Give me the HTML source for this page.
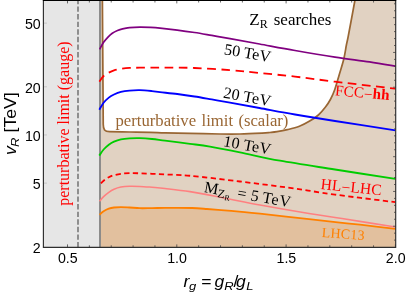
<!DOCTYPE html>
<html><head><meta charset="utf-8"><title>plot</title>
<style>
html,body{margin:0;padding:0;background:#ffffff;}
body{width:407px;height:295px;overflow:hidden;font-family:"Liberation Sans",sans-serif;}
svg{display:block;will-change:transform;}
</style></head><body>
<svg width="407" height="295" viewBox="0 0 407 295">
<rect x="0" y="0" width="407" height="295" fill="#ffffff"/>
<rect x="43.4" y="0.5" width="56.6" height="246.8" fill="#e6e6e6"/>
<rect x="100" y="0.5" width="295.7" height="246.8" fill="#e1d2c2"/>
<path d="M102.4,0.5 L103.25,124.3 C103.3,129.5 104.6,131.65 109.5,131.7 C112.92,131.75 123.25,131.90 130.00,132.00 C136.75,132.10 144.17,132.17 150.00,132.30 C155.83,132.43 158.33,132.62 165.00,132.80 C171.67,132.98 180.83,133.20 190.00,133.40 C199.17,133.60 211.67,133.90 220.00,134.00 C228.33,134.10 233.00,134.15 240.00,134.00 C247.00,133.85 257.00,133.35 262.00,133.10 C267.00,132.85 267.50,132.73 270.00,132.50 C272.50,132.27 274.12,132.17 277.00,131.70 C279.88,131.23 283.57,130.60 287.30,129.70 C291.03,128.80 295.67,127.73 299.40,126.30 C303.13,124.87 306.53,122.98 309.70,121.10 C312.87,119.22 315.80,117.30 318.40,115.00 C321.00,112.70 323.30,109.88 325.30,107.30 C327.30,104.72 328.82,102.47 330.40,99.50 C331.98,96.53 333.32,93.67 334.80,89.50 C336.28,85.33 337.80,79.58 339.30,74.50 C340.80,69.42 342.62,63.92 343.80,59.00 C344.98,54.08 345.65,48.83 346.40,45.00 C347.15,41.17 346.88,43.42 348.30,36.00 C349.72,28.58 353.80,6.42 354.90,0.50 Z" fill="#ffffff"/>
<path d="M99.50,214.70 C100.18,214.13 102.05,212.30 103.60,211.30 C105.15,210.30 107.07,209.33 108.80,208.70 C110.53,208.07 111.98,207.77 114.00,207.50 C116.02,207.23 118.32,207.10 120.90,207.10 C123.48,207.10 126.33,207.32 129.50,207.50 C132.67,207.68 136.15,208.10 139.90,208.20 C143.65,208.30 147.82,208.14 152.00,208.10 C156.18,208.06 161.17,207.99 165.00,207.95 C168.83,207.92 170.50,207.85 175.00,207.86 C179.50,207.87 186.67,207.82 192.00,208.01 C197.33,208.19 201.58,208.57 207.00,208.97 C212.42,209.37 218.70,209.93 224.50,210.40 C230.30,210.87 235.88,211.27 241.80,211.80 C247.72,212.33 248.80,212.37 260.00,213.60 C271.20,214.83 295.67,217.70 309.00,219.20 C322.33,220.70 331.50,221.68 340.00,222.60 C348.50,223.52 350.77,223.67 360.00,224.70 C369.23,225.73 389.50,228.12 395.40,228.80 L395.7,247.3 L100,247.3 Z" fill="#e2c09e"/>
<line x1="100" y1="0.5" x2="100" y2="247.3" stroke="#888888" stroke-width="1.9"/>
<line x1="78" y1="0.5" x2="78" y2="247.3" stroke="#6a6a6a" stroke-width="1.4" stroke-dasharray="5.4 2.2" stroke-dashoffset="1.65"/>
<path d="M102.4,0.5 L103.25,124.3 C103.3,129.5 104.6,131.65 109.5,131.7 C112.92,131.75 123.25,131.90 130.00,132.00 C136.75,132.10 144.17,132.17 150.00,132.30 C155.83,132.43 158.33,132.62 165.00,132.80 C171.67,132.98 180.83,133.20 190.00,133.40 C199.17,133.60 211.67,133.90 220.00,134.00 C228.33,134.10 233.00,134.15 240.00,134.00 C247.00,133.85 257.00,133.35 262.00,133.10 C267.00,132.85 267.50,132.73 270.00,132.50 C272.50,132.27 274.12,132.17 277.00,131.70 C279.88,131.23 283.57,130.60 287.30,129.70 C291.03,128.80 295.67,127.73 299.40,126.30 C303.13,124.87 306.53,122.98 309.70,121.10 C312.87,119.22 315.80,117.30 318.40,115.00 C321.00,112.70 323.30,109.88 325.30,107.30 C327.30,104.72 328.82,102.47 330.40,99.50 C331.98,96.53 333.32,93.67 334.80,89.50 C336.28,85.33 337.80,79.58 339.30,74.50 C340.80,69.42 342.62,63.92 343.80,59.00 C344.98,54.08 345.65,48.83 346.40,45.00 C347.15,41.17 346.88,43.42 348.30,36.00 C349.72,28.58 353.80,6.42 354.90,0.50" fill="none" stroke="#996633" stroke-width="1.7" stroke-linejoin="round"/>
<path d="M99.50,214.70 C100.18,214.13 102.05,212.30 103.60,211.30 C105.15,210.30 107.07,209.33 108.80,208.70 C110.53,208.07 111.98,207.77 114.00,207.50 C116.02,207.23 118.32,207.10 120.90,207.10 C123.48,207.10 126.33,207.32 129.50,207.50 C132.67,207.68 136.15,208.10 139.90,208.20 C143.65,208.30 147.82,208.14 152.00,208.10 C156.18,208.06 161.17,207.99 165.00,207.95 C168.83,207.92 170.50,207.85 175.00,207.86 C179.50,207.87 186.67,207.82 192.00,208.01 C197.33,208.19 201.58,208.57 207.00,208.97 C212.42,209.37 218.70,209.93 224.50,210.40 C230.30,210.87 235.88,211.27 241.80,211.80 C247.72,212.33 248.80,212.37 260.00,213.60 C271.20,214.83 295.67,217.70 309.00,219.20 C322.33,220.70 331.50,221.68 340.00,222.60 C348.50,223.52 350.77,223.67 360.00,224.70 C369.23,225.73 389.50,228.12 395.40,228.80" fill="none" stroke="#ff8000" stroke-width="1.85"/>
<path d="M99.50,201.30 C100.18,200.52 102.05,198.10 103.60,196.60 C105.15,195.10 107.07,193.52 108.80,192.30 C110.53,191.08 111.98,190.17 114.00,189.30 C116.02,188.43 118.32,187.62 120.90,187.10 C123.48,186.58 126.33,186.32 129.50,186.20 C132.67,186.08 136.15,186.22 139.90,186.40 C143.65,186.58 147.82,186.96 152.00,187.30 C156.18,187.64 158.67,187.73 165.00,188.45 C171.33,189.18 180.00,190.00 190.00,191.63 C200.00,193.25 213.33,195.97 225.00,198.20 C236.67,200.43 246.00,202.47 260.00,205.00 C274.00,207.53 295.33,211.15 309.00,213.40 C322.67,215.65 327.60,216.22 342.00,218.50 C356.40,220.78 386.50,225.67 395.40,227.10" fill="none" stroke="#ff8080" stroke-width="1.55"/>
<path d="M99.50,184.80 C100.18,184.12 102.05,181.97 103.60,180.70 C105.15,179.43 107.07,178.12 108.80,177.20 C110.53,176.28 111.98,175.77 114.00,175.20 C116.02,174.63 118.32,174.15 120.90,173.80 C123.48,173.45 126.33,173.18 129.50,173.10 C132.67,173.02 136.15,173.18 139.90,173.30 C143.65,173.42 147.82,173.61 152.00,173.80 C156.18,173.99 158.67,174.13 165.00,174.45 C171.33,174.78 177.50,174.55 190.00,175.73 C202.50,176.90 223.33,179.47 240.00,181.50 C256.67,183.53 274.17,185.72 290.00,187.90 C305.83,190.08 317.43,192.22 335.00,194.60 C352.57,196.98 385.33,200.93 395.40,202.20" fill="none" stroke="#ff0000" stroke-width="1.8" stroke-dasharray="5.2 3.47" stroke-dashoffset="6.55"/>
<path d="M99.30,155.60 C100.02,154.58 102.02,151.32 103.60,149.50 C105.18,147.68 107.07,146.02 108.80,144.70 C110.53,143.38 111.98,142.50 114.00,141.60 C116.02,140.70 118.32,139.85 120.90,139.30 C123.48,138.75 126.33,138.50 129.50,138.30 C132.67,138.10 136.15,137.98 139.90,138.10 C143.65,138.22 147.82,138.57 152.00,139.00 C156.18,139.43 158.67,139.85 165.00,140.65 C171.33,141.46 182.50,142.83 190.00,143.83 C197.50,144.83 201.67,145.22 210.00,146.65 C218.33,148.07 228.33,150.06 240.00,152.40 C251.67,154.74 264.17,157.85 280.00,160.70 C295.83,163.55 315.77,166.47 335.00,169.50 C354.23,172.53 385.33,177.33 395.40,178.90" fill="none" stroke="#00cc00" stroke-width="1.85"/>
<path d="M99.30,109.70 C100.02,108.55 102.02,104.82 103.60,102.80 C105.18,100.78 107.07,98.98 108.80,97.60 C110.53,96.22 111.98,95.45 114.00,94.50 C116.02,93.55 118.32,92.55 120.90,91.90 C123.48,91.25 126.33,90.88 129.50,90.60 C132.67,90.32 136.15,90.12 139.90,90.20 C143.65,90.28 148.65,90.78 152.00,91.10 C155.35,91.42 155.78,91.61 160.00,92.10 C164.22,92.59 171.55,93.31 177.30,94.04 C183.05,94.77 188.75,95.59 194.50,96.49 C200.25,97.38 205.88,98.41 211.80,99.43 C217.72,100.45 222.05,101.17 230.00,102.60 C237.95,104.03 248.67,106.02 259.50,108.00 C270.33,109.98 282.42,112.33 295.00,114.50 C307.58,116.67 318.27,118.35 335.00,121.00 C351.73,123.65 385.33,128.83 395.40,130.40" fill="none" stroke="#0000ff" stroke-width="1.85"/>
<path d="M99.30,81.60 C100.02,80.67 102.02,77.50 103.60,76.00 C105.18,74.50 107.07,73.55 108.80,72.60 C110.53,71.65 111.98,70.93 114.00,70.30 C116.02,69.67 118.32,69.20 120.90,68.80 C123.48,68.40 126.33,68.08 129.50,67.90 C132.67,67.72 136.15,67.75 139.90,67.70 C143.65,67.65 147.78,67.62 152.00,67.60 C156.22,67.58 158.12,67.49 165.20,67.55 C172.28,67.62 183.70,67.56 194.50,67.99 C205.30,68.41 219.08,69.26 230.00,70.10 C240.92,70.94 249.17,71.92 260.00,73.00 C270.83,74.08 282.50,75.15 295.00,76.60 C307.50,78.05 318.27,79.68 335.00,81.70 C351.73,83.72 385.33,87.53 395.40,88.70" fill="none" stroke="#ff0000" stroke-width="1.8" stroke-dasharray="8.7 5.45" stroke-dashoffset="0.9"/>
<path d="M99.60,49.40 C100.27,48.22 102.20,44.35 103.60,42.30 C105.00,40.25 106.55,38.60 108.00,37.10 C109.45,35.60 110.72,34.40 112.30,33.30 C113.88,32.20 115.78,31.25 117.50,30.50 C119.22,29.75 120.60,29.28 122.60,28.80 C124.60,28.32 126.62,27.88 129.50,27.60 C132.38,27.32 136.43,27.13 139.90,27.10 C143.37,27.07 146.95,27.23 150.30,27.40 C153.65,27.57 155.50,27.66 160.00,28.10 C164.50,28.54 171.55,29.31 177.30,30.04 C183.05,30.77 188.75,31.59 194.50,32.49 C200.25,33.38 205.88,34.41 211.80,35.43 C217.72,36.45 222.05,37.17 230.00,38.60 C237.95,40.03 248.67,42.02 259.50,44.00 C270.33,45.98 282.42,48.32 295.00,50.50 C307.58,52.68 322.58,55.20 335.00,57.10 C347.42,59.00 359.43,60.38 369.50,61.90 C379.57,63.42 391.08,65.48 395.40,66.20" fill="none" stroke="#800080" stroke-width="1.7"/>
<path d="M67.50,247.3 v-2.9 M67.50,0.5 v2.9 M89.36,247.3 v-2.0 M89.36,0.5 v2.0 M111.22,247.3 v-2.0 M111.22,0.5 v2.0 M133.08,247.3 v-2.0 M133.08,0.5 v2.0 M154.94,247.3 v-2.0 M154.94,0.5 v2.0 M176.80,247.3 v-2.9 M176.80,0.5 v2.9 M198.66,247.3 v-2.0 M198.66,0.5 v2.0 M220.52,247.3 v-2.0 M220.52,0.5 v2.0 M242.38,247.3 v-2.0 M242.38,0.5 v2.0 M264.24,247.3 v-2.0 M264.24,0.5 v2.0 M286.10,247.3 v-2.9 M286.10,0.5 v2.9 M307.96,247.3 v-2.0 M307.96,0.5 v2.0 M329.82,247.3 v-2.0 M329.82,0.5 v2.0 M351.68,247.3 v-2.0 M351.68,0.5 v2.0 M373.54,247.3 v-2.0 M373.54,0.5 v2.0 M395.40,247.3 v-2.9 M395.40,0.5 v2.9 M395.7,240.10 h-1.7 M395.7,233.15 h-1.7 M395.7,226.20 h-2.6 M395.7,219.25 h-1.7 M395.7,212.30 h-1.7 M395.7,205.35 h-1.7 M395.7,198.40 h-1.7 M395.7,191.45 h-2.6 M395.7,184.50 h-1.7 M395.7,177.55 h-1.7 M395.7,170.60 h-1.7 M395.7,163.65 h-1.7 M395.7,156.70 h-2.6 M395.7,149.75 h-1.7 M395.7,142.80 h-1.7 M395.7,135.85 h-1.7 M395.7,128.90 h-1.7 M395.7,121.95 h-2.6 M395.7,115.00 h-1.7 M395.7,108.05 h-1.7 M395.7,101.10 h-1.7 M395.7,94.15 h-1.7 M395.7,87.20 h-2.6 M395.7,80.25 h-1.7 M395.7,73.30 h-1.7 M395.7,66.35 h-1.7 M395.7,59.40 h-1.7 M395.7,52.45 h-2.6 M395.7,45.50 h-1.7 M395.7,38.55 h-1.7 M395.7,31.60 h-1.7 M395.7,24.65 h-1.7 M395.7,17.70 h-2.6 M395.7,10.75 h-1.7 M395.7,3.80 h-1.7" fill="none" stroke="#444444" stroke-width="0.8"/>
<path d="M43.4,183.13 h3.5 M43.4,134.96 h3.5 M43.4,86.80 h3.5 M43.4,23.13 h3.5" fill="none" stroke="#bdbdbd" stroke-width="0.8"/>
<path d="M43.4,0.5 V247.3 H395.7 V0.5" fill="none" stroke="#2e2e2e" stroke-width="1.15"/>
<line x1="42.8" y1="0.5" x2="396.3" y2="0.5" stroke="#000" stroke-width="1.2"/>
<text x="40.7" y="252.70" font-family="Liberation Sans, sans-serif" font-size="14.2" text-anchor="end" fill="#000">2</text>
<text x="40.7" y="189.03" font-family="Liberation Sans, sans-serif" font-size="14.2" text-anchor="end" fill="#000">5</text>
<text x="40.7" y="140.86" font-family="Liberation Sans, sans-serif" font-size="14.2" text-anchor="end" fill="#000">10</text>
<text x="40.7" y="92.70" font-family="Liberation Sans, sans-serif" font-size="14.2" text-anchor="end" fill="#000">20</text>
<text x="40.7" y="29.03" font-family="Liberation Sans, sans-serif" font-size="14.2" text-anchor="end" fill="#000">50</text>
<text x="67.80" y="262.9" font-family="Liberation Sans, sans-serif" font-size="14.2" text-anchor="middle" fill="#000">0.5</text>
<text x="177.10" y="262.9" font-family="Liberation Sans, sans-serif" font-size="14.2" text-anchor="middle" fill="#000">1.0</text>
<text x="286.40" y="262.9" font-family="Liberation Sans, sans-serif" font-size="14.2" text-anchor="middle" fill="#000">1.5</text>
<text x="395.70" y="262.9" font-family="Liberation Sans, sans-serif" font-size="14.2" text-anchor="middle" fill="#000">2.0</text>
<text transform="translate(183.4,287.0) scale(1.1,1)" font-family="Liberation Sans, sans-serif" font-size="16" font-style="italic" fill="#000">r</text>
<text transform="translate(189.0,290.4) scale(1.1,1)" font-family="Liberation Sans, sans-serif" font-size="11.8" font-style="italic" fill="#000">g</text>
<text transform="translate(201.2,287.0) scale(1.1,1)" font-family="Liberation Sans, sans-serif" font-size="16" fill="#000">=</text>
<text transform="translate(214.4,287.0) scale(1.1,1)" font-family="Liberation Sans, sans-serif" font-size="16" font-style="italic" fill="#000">g</text>
<text transform="translate(224.2,290.4) scale(1.1,1)" font-family="Liberation Sans, sans-serif" font-size="11.8" font-style="italic" fill="#000">R</text>
<text transform="translate(233.5,287.0) scale(1.1,1)" font-family="Liberation Sans, sans-serif" font-size="16" fill="#000">/</text>
<text transform="translate(236.0,287.0) scale(1.1,1)" font-family="Liberation Sans, sans-serif" font-size="16" font-style="italic" fill="#000">g</text>
<text transform="translate(246.2,290.4) scale(1.1,1)" font-family="Liberation Sans, sans-serif" font-size="11.8" font-style="italic" fill="#000">L</text>
<text transform="translate(16.0,155.0) rotate(-90) scale(1.1,1)" font-family="Liberation Sans, sans-serif" font-size="16" font-style="italic" fill="#000">v</text>
<text transform="translate(19.4,146.9) rotate(-90) scale(1.1,1)" font-family="Liberation Sans, sans-serif" font-size="11.8" font-style="italic" fill="#000">R</text>
<text transform="translate(16.0,132.5) rotate(-90) scale(1.1,1)" font-family="Liberation Sans, sans-serif" font-size="16" fill="#000">[TeV]</text>
<text transform="translate(69.0,205.8) rotate(-90)" font-family="Liberation Serif, serif" font-size="16" fill="#ff0000">perturbative limit (gauge)</text>
<text x="115.5" y="126.4" font-family="Liberation Serif, serif" font-size="16.7" word-spacing="1.2" fill="#996633">perturbative limit (scalar)</text>
<text x="249.3" y="25.2" font-family="Liberation Serif, serif" font-size="17" fill="#000">Z<tspan font-size="12" dy="3">R</tspan><tspan dy="-3" dx="1.8"> searches</tspan></text>
<text transform="translate(223.5,54.3) rotate(9.5)" font-family="Liberation Serif, serif" font-size="16" fill="#000">50 TeV</text>
<text transform="translate(222.8,97.6) rotate(10.6)" font-family="Liberation Serif, serif" font-size="16" fill="#000">20 <tspan letter-spacing="0.3">TeV</tspan></text>
<text transform="translate(222.8,146.0) rotate(10.4)" font-family="Liberation Serif, serif" font-size="16" fill="#000"><tspan letter-spacing="0.15">10 TeV</tspan></text>
<text transform="translate(203.5,192.0) rotate(10)" font-family="Liberation Serif, serif" font-size="16" fill="#000">M<tspan font-size="12" dy="2.6">Z</tspan><tspan font-size="8" dy="1.6">R</tspan><tspan dy="-4.2" dx="2.9"> =</tspan><tspan dx="0.5"> 5</tspan><tspan dx="-0.5" letter-spacing="0.6"> TeV</tspan></text>
<text transform="translate(334.7,95.2) rotate(5)" font-family="Liberation Serif, serif" font-size="15.2" fill="#ff0000"><tspan letter-spacing="0.1">FCC<tspan dy="1.3">−</tspan><tspan dy="-1.3" font-weight="bold">hh</tspan></tspan></text>
<text transform="translate(320.2,188.9) rotate(6)" font-family="Liberation Serif, serif" font-size="15.6" fill="#ff0000"><tspan letter-spacing="0.1">HL<tspan dy="1.1">−</tspan><tspan dy="-1.1">LHC</tspan></tspan></text>
<text transform="translate(321.4,236.9) rotate(4)" font-family="Liberation Serif, serif" font-size="14" fill="#ff8000"><tspan letter-spacing="0.25">LHC13</tspan></text>
</svg>
</body></html>
